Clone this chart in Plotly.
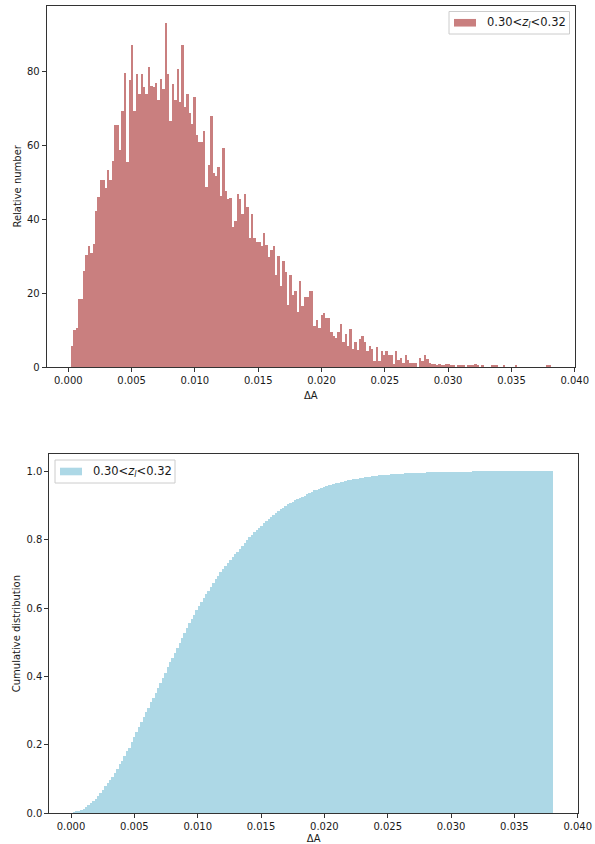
import numpy as np
import plotly.graph_objects as go

# ---------------- data ----------------
DA_MIN = 0.00019      # left edge of first bin (ΔA)
DA_MAX = 0.0381       # right edge of last bin (ΔA)
N_BINS = 200

# relative number (density) per bin
rel_number = [
    5.9, 10, 10.6, 18.6, 18.6, 26, 30.3, 32.8, 30.9, 33.4,
    42.4, 46, 50.7, 50.7, 48.7, 53.4, 50.8, 55.9, 65.7, 65.7,
    58.8, 69.3, 79.8, 55.5, 77.7, 87.3, 69.3, 79.4, 74, 79.4,
    75.8, 74, 81.4, 76.2, 75.8, 77.1, 72.4, 78.2, 75.3, 93.2,
    79.4, 66.8, 76.8, 72.3, 80.7, 71.9, 87.3, 70.4, 74, 69,
    65.9, 73.1, 63, 60.9, 60.9, 63.9, 48.9, 54.9, 68.1, 52.5,
    51.9, 54.3, 46.5, 59.4, 47.7, 45.6, 45.9, 37.9, 39.7, 46.9,
    45.5, 41.4, 46.9, 43.3, 35, 41.5, 35, 33.9, 33.9, 32.8,
    36.4, 33.2, 29.8, 31.8, 32.8, 24.9, 30.2, 21.9, 28.9, 25.8,
    17, 24.9, 19.5, 20.8, 15, 23.3, 16.5, 19, 19, 20.8,
    20.8, 11.1, 12.9, 10.6, 14.3, 14.8, 13.4, 13.4, 9.5, 8.5,
    7.9, 9.5, 11.8, 6.8, 9.1, 5.9, 10.4, 5, 6.8, 4.8,
    7.7, 8.4, 6.8, 4.4, 5.8, 5, 1.6, 5.4, 1.6, 4.3,
    3.2, 4.3, 3.2, 3.2, 1, 4.4, 2.1, 2.5, 1.2, 3.2,
    2.1, 1.2, 1.2, 1.2, 0, 2.5, 1.8, 3.2, 2.3, 1.2,
    1.0, 1.0, 0.7, 1.0, 0.7, 0.5, 1.0, 1.0, 0.5, 0.5,
    0, 0.7, 0.7, 0.5, 0, 0.5, 0.5, 0.5, 1.0, 0.5,
    0, 0.5, 0, 0, 0, 0.5, 0.5, 0.5, 0, 0,
    0.5, 0, 0, 0, 0, 0.5, 0, 0, 0, 0,
    0, 0, 0, 0, 0, 0, 0, 0, 0.5, 0.5,
]

x_tick_vals = [0.000, 0.005, 0.010, 0.015, 0.020, 0.025, 0.030, 0.035, 0.040]
y1_tick_vals = [0, 20, 40, 60, 80]
y2_tick_vals = [0.0, 0.2, 0.4, 0.6, 0.8, 1.0]

legend_label = "0.30&lt;<i>z</i><sub><i>l</i></sub>&lt;0.32"
x_title = "ΔA"
y1_title = "Relative number"
y2_title = "Cumulative distribution"

# ---------------- derived ----------------
edges = np.linspace(DA_MIN, DA_MAX, N_BINS + 1)
centers = 0.5 * (edges[:-1] + edges[1:])
widths = np.diff(edges)
dens = np.array(rel_number, dtype=float)
cum = np.cumsum(dens * widths)
cum = cum / cum[-1]

W, H = 595, 844
def fx(px):
    return px / W
def fy(py):
    return 1 - py / H

FONT = "DejaVu Sans"
TXT = "#1a1a1a"
SPINE = "#333333"

span = DA_MAX - DA_MIN
xrange = [DA_MIN - 0.05 * span, 0.04002]

fig = go.Figure()
fig.add_trace(go.Bar(
    x=centers, y=dens, width=widths,
    marker=dict(color="rgba(165,42,42,0.6)", line=dict(width=0)),
    xaxis="x", yaxis="y", showlegend=False, name="0.30<z<0.32",
))
fig.add_trace(go.Bar(
    x=centers, y=cum, width=widths,
    marker=dict(color="#add8e6", line=dict(width=0)),
    xaxis="x2", yaxis="y2", showlegend=False, name="0.30<z<0.32",
))

common_axis = dict(
    showline=True, mirror=True, linecolor=SPINE, linewidth=1,
    ticks="outside", ticklen=4, tickwidth=1, tickcolor=SPINE,
    showgrid=False, zeroline=False, automargin=False,
    tickfont=dict(family=FONT, size=10, color=TXT),
    title_font=dict(family=FONT, size=10, color=TXT),
)

fig.update_layout(
    width=W, height=H,
    margin=dict(l=0, r=0, t=0, b=0, autoexpand=False),
    paper_bgcolor="white", plot_bgcolor="white",
    bargap=0, showlegend=False,
    xaxis=dict(domain=[fx(46.7), fx(575)], range=xrange, anchor="y",
               tickvals=x_tick_vals, tickformat=".3f",
               title=dict(text=x_title, standoff=6), **common_axis),
    yaxis=dict(domain=[fy(367), fy(5.7)], range=[0, max(rel_number) * 1.05], anchor="x",
               tickvals=y1_tick_vals,
               title=dict(text=y1_title, standoff=3), **common_axis),
    xaxis2=dict(domain=[fx(49.4), fx(578)], range=xrange, anchor="y2",
                tickvals=x_tick_vals, tickformat=".3f",
                title=dict(text=x_title, standoff=6), **common_axis),
    yaxis2=dict(domain=[fy(813), fy(454.3)], range=[0, 1.05], anchor="x2",
                tickvals=y2_tick_vals, tickformat=".1f",
                title=dict(text=y2_title, standoff=3), **common_axis),
)

# manual legends (matplotlib style)
def add_legend(x0, y0, x1, y1, color):
    fig.add_shape(type="rect", xref="paper", yref="paper",
                  x0=fx(x0), x1=fx(x1), y0=fy(y1), y1=fy(y0),
                  line=dict(color="#cccccc", width=1), fillcolor="rgba(255,255,255,0.8)",
                  layer="above")
    cy = 0.5 * (y0 + y1)
    fig.add_shape(type="rect", xref="paper", yref="paper",
                  x0=fx(x0 + 5), x1=fx(x0 + 27), y0=fy(cy + 3.8), y1=fy(cy - 3.8),
                  line=dict(width=0), fillcolor=color, layer="above")
    fig.add_annotation(xref="paper", yref="paper", x=fx(x0 + 36), y=fy(cy),
                       xanchor="left", yanchor="middle", showarrow=False,
                       text=legend_label,
                       font=dict(family=FONT, size=11.5, color=TXT))

add_legend(449, 11.5, 569.5, 34, "rgba(165,42,42,0.6)")
add_legend(55, 460, 175, 483, "#add8e6")

fig.write_html("out.html")
